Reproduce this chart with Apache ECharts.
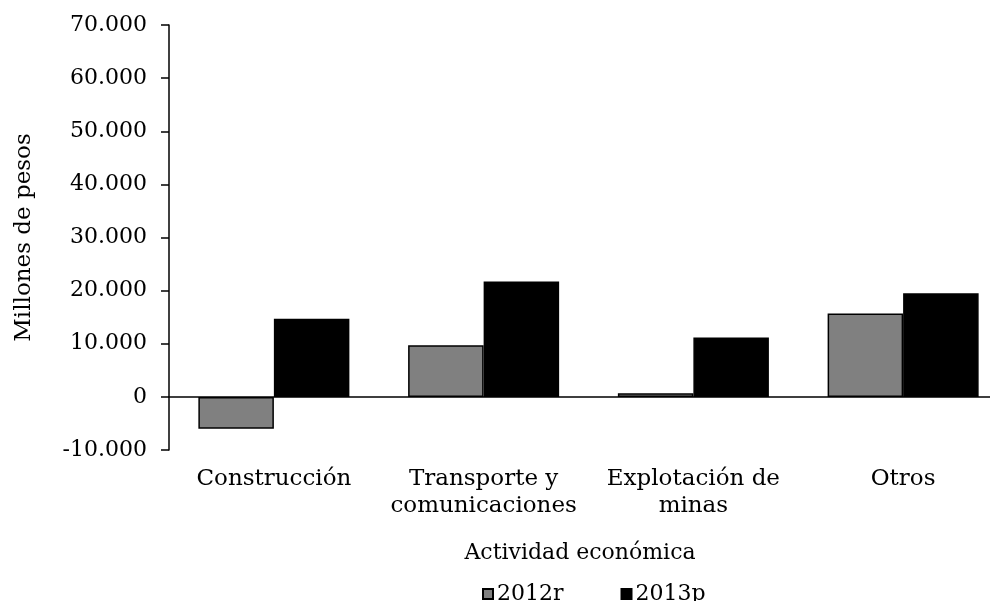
<!DOCTYPE html>
<html>
<head>
<meta charset="utf-8">
<script src="https://cdn.jsdelivr.net/npm/echarts@6/dist/echarts.min.js"></script>
<style>html,body{margin:0;padding:0;background:#fff}#c{width:990px;height:601px}</style>
</head>
<body>
<div id="c"></div>
<script>
var categories = ['Construcción', 'Transporte y\ncomunicaciones', 'Explotación de\nminas', 'Otros'];
var series2012 = [-6000, 9700, 700, 15700];
var series2013 = [14700, 21700, 11200, 19500];
var seriesNames = ['2012r', '2013p'];
var yTicks = [-10000, 0, 10000, 20000, 30000, 40000, 50000, 60000, 70000];

var FONT = 'DejaVu Serif';
function fmt(v) {
  var s = Math.abs(v).toString().replace(/\B(?=(\d{3})+(?!\d))/g, '.');
  return (v < 0 ? '-' : '') + s;
}
var chart = echarts.init(document.getElementById('c'), null, {renderer: 'canvas'});
chart.setOption({
  animation: false,
  backgroundColor: '#fff',
  textStyle: {fontFamily: FONT, color: '#000'},
  title: {
    text: 'Actividad económica',
    left: 575, top: 537,
    textAlign: 'center',
    textStyle: {fontFamily: FONT, fontSize: 22, fontWeight: 'normal', color: '#000'}
  },
  legend: {
    left: 477, top: 578,
    itemWidth: 10, itemHeight: 10, itemGap: 57,
    icon: 'rect',
    textStyle: {fontFamily: FONT, fontSize: 22, color: '#000', padding: [0, 0, 0, -1]},
    data: seriesNames
  },
  grid: {left: 169, top: 25, right: -18, height: 425, containLabel: false, outerBoundsMode: 'none'},
  xAxis: {
    type: 'category',
    data: categories,
    axisLine: {onZero: true, lineStyle: {color: '#000', width: 1.5}},
    axisTick: {show: false},
    axisLabel: {
      interval: 0, color: '#000', fontFamily: FONT, fontSize: 23,
      lineHeight: 27, margin: 16
    },
    position: 'bottom'
  },
  yAxis: {
    type: 'value',
    min: yTicks[0], max: yTicks[yTicks.length - 1], interval: 10000,
    name: 'Millones de pesos',
    nameLocation: 'middle', nameGap: 133, nameRotate: 90,
    nameTextStyle: {fontFamily: FONT, fontSize: 23, color: '#000'},
    axisLine: {show: true, lineStyle: {color: '#000', width: 1.5}},
    axisTick: {show: true, length: 8, inside: false, lineStyle: {color: '#000', width: 1.5}},
    splitLine: {show: false},
    axisLabel: {color: '#000', fontFamily: FONT, fontSize: 22, margin: 22, formatter: fmt}
  },
  series: [
    {
      name: seriesNames[0], type: 'bar', data: series2012,
      barGap: '0%', barCategoryGap: '28%',
      itemStyle: {color: '#808080', borderColor: '#000', borderWidth: 1.5}
    },
    {
      name: seriesNames[1], type: 'bar', data: series2013,
      barGap: '0%', barCategoryGap: '28%',
      itemStyle: {color: '#000', borderColor: '#000', borderWidth: 1.5}
    }
  ]
});
</script>
</body>
</html>
